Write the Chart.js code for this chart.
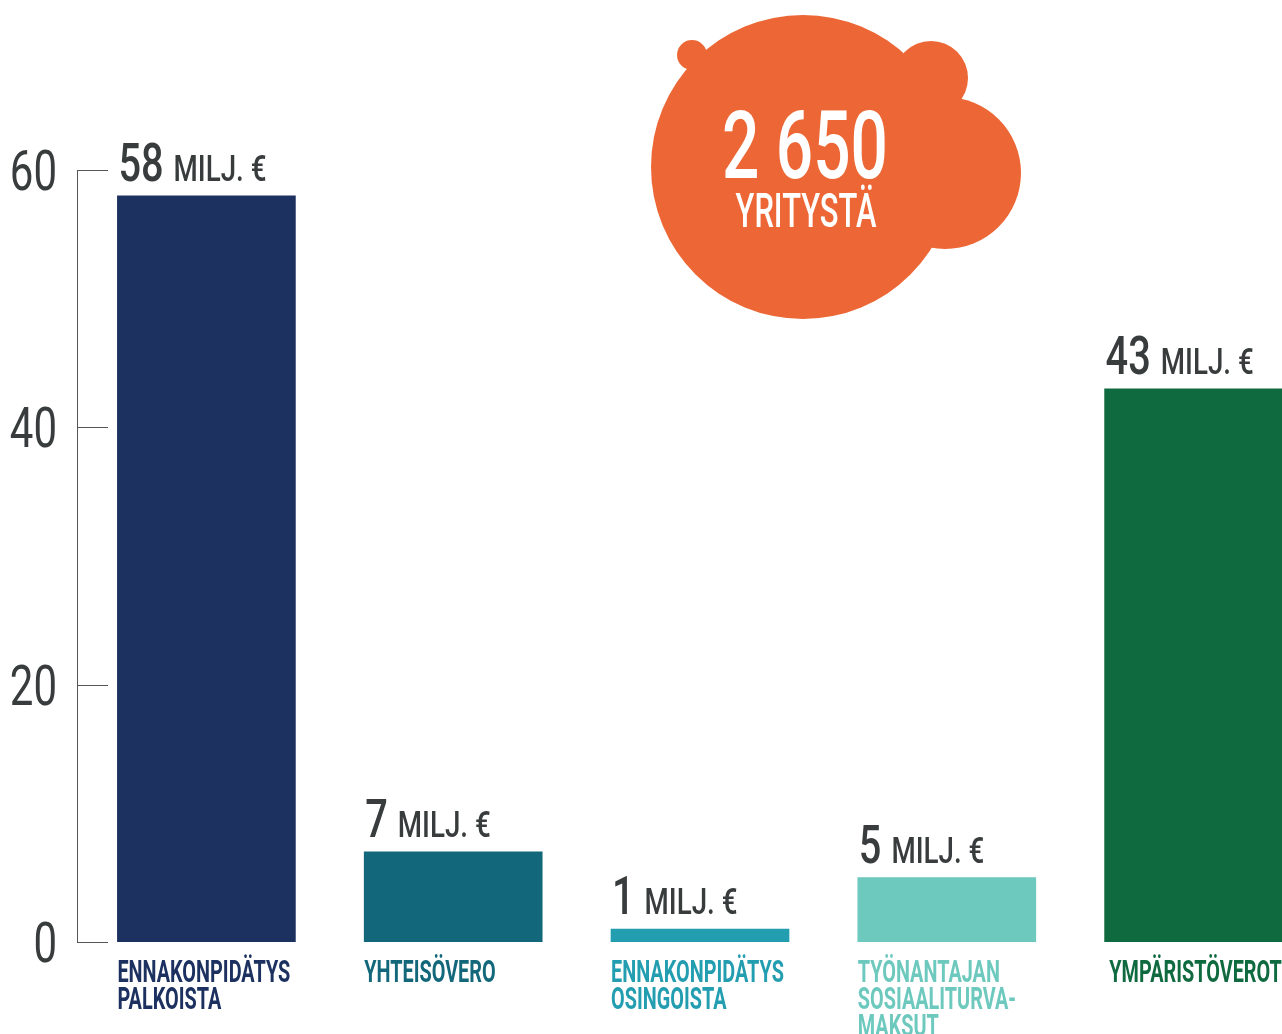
<!DOCTYPE html>
<html>
<head>
<meta charset="utf-8">
<script src="https://cdn.jsdelivr.net/npm/chart.js@4/dist/chart.umd.min.js"></script>
<style>
  html, body { margin: 0; padding: 0; background: #fff; overflow: hidden; }
  #wrap { width: 1320px; height: 1034px; }
</style>
</head>
<body>
<div id="wrap"><canvas id="chart" width="1320" height="1034"></canvas></div>
<script>
// data
const categories = [
  ["ENNAKONPIDÄTYS", "PALKOISTA"],
  ["YHTEISÖVERO"],
  ["ENNAKONPIDÄTYS", "OSINGOISTA"],
  ["TYÖNANTAJAN", "SOSIAALITURVA-", "MAKSUT"],
  ["YMPÄRISTÖVEROT"]
];
const values = [58, 7, 1, 5, 43];
const unit = "MILJ. €";
const colors = ["#1c3160", "#12687a", "#239db0", "#6dc9be", "#0f6b3f"];
const yTicks = [0, 20, 40, 60];
const companyCount = "2 650";
const companyLabel = "YRITYSTÄ";

const FONT = "Roboto, 'DejaVu Sans', sans-serif";
const TEXT = "#383c3c";
const SQUEEZE = 0.75;

// the installed fonts are too wide, so text is squeezed horizontally
function squeezed(ctx, txt, x, y, font, sx, align) {
  ctx.save();
  ctx.font = font;
  let w = ctx.measureText(txt).width * sx;
  if (align === 'right') x -= w;
  if (align === 'center') x -= w / 2;
  ctx.translate(x, y);
  ctx.scale(sx, 1);
  ctx.textAlign = 'left';
  ctx.fillText(txt, 0, 0);
  ctx.restore();
  return w;
}

// y axis: line, inward tick marks and tick labels
const axisPlugin = {
  id: 'axisLine',
  afterDraw(chart) {
    const ctx = chart.ctx;
    const y = chart.scales.y;
    const x0 = chart.chartArea.left - 6;
    ctx.save();
    ctx.strokeStyle = '#555';
    ctx.lineWidth = 1;
    ctx.beginPath();
    ctx.moveTo(x0 + 0.5, y.getPixelForValue(60));
    ctx.lineTo(x0 + 0.5, y.getPixelForValue(0));
    y.ticks.forEach(t => {
      const py = Math.round(y.getPixelForValue(t.value)) + 0.5;
      ctx.moveTo(x0, py);
      ctx.lineTo(x0 + 31, py);
    });
    ctx.stroke();
    ctx.fillStyle = TEXT;
    ctx.textBaseline = 'alphabetic';
    y.ticks.forEach(t => {
      const py = y.getPixelForValue(t.value);
      squeezed(ctx, String(t.value), x0 - 20, py + 20, '400 56px ' + FONT, SQUEEZE, 'right');
    });
    ctx.restore();
  }
};

// category labels under the bars and value labels above them
const labelPlugin = {
  id: 'labels',
  afterDatasetsDraw(chart) {
    const ctx = chart.ctx;
    const meta = chart.getDatasetMeta(0);
    const xs = chart.scales.x;
    ctx.save();
    ctx.textBaseline = 'alphabetic';
    meta.data.forEach((bar, i) => {
      const left = bar.x - bar.width / 2 + 1;
      const base = bar.y - 15;
      ctx.fillStyle = TEXT;
      const w = squeezed(ctx, String(values[i]), left, base, '500 53px ' + FONT, SQUEEZE);
      squeezed(ctx, unit, left + w + 10, base, '500 37px ' + FONT, SQUEEZE);

      ctx.fillStyle = colors[i];
      const cx = xs.getPixelForTick(i);
      const lines = chart.data.labels[i];
      lines.forEach((ln, k) => {
        const by = xs.top + 40 + k * 27;
        if (i === categories.length - 1) {
          squeezed(ctx, ln, cx + 2, by, '700 31px ' + FONT, 0.64, 'center');
        } else {
          squeezed(ctx, ln, cx - bar.width / 2, by, '700 31px ' + FONT, 0.64);
        }
      });
    });
    ctx.restore();
  }
};

// orange bubble
const bubblePlugin = {
  id: 'bubble',
  beforeDatasetsDraw(chart) {
    const ctx = chart.ctx;
    ctx.save();
    ctx.fillStyle = '#ec6735';
    [[803, 167, 152], [945, 173, 76], [931, 78, 37], [692, 55, 15]].forEach(c => {
      ctx.beginPath();
      ctx.arc(c[0], c[1], c[2], 0, Math.PI * 2);
      ctx.fill();
    });
    ctx.fillStyle = '#fff';
    ctx.textBaseline = 'alphabetic';
    ctx.font = '500 95px ' + FONT;
    let s1 = 166 / ctx.measureText(companyCount).width;
    squeezed(ctx, companyCount, 805, 178, '500 95px ' + FONT, s1, 'center');
    ctx.font = '500 49px ' + FONT;
    let s2 = 141 / ctx.measureText(companyLabel).width;
    squeezed(ctx, companyLabel, 806, 227, '500 49px ' + FONT, s2, 'center');
    ctx.restore();
  }
};

new Chart(document.getElementById('chart'), {
  type: 'bar',
  data: {
    labels: categories,
    datasets: [{
      data: values,
      backgroundColor: colors,
      barThickness: 178,
      borderWidth: 0
    }]
  },
  options: {
    responsive: false,
    animation: false,
    layout: { padding: { top: 170, right: 3, left: 0, bottom: 0 } },
    plugins: { legend: { display: false }, tooltip: { enabled: false } },
    scales: {
      x: {
        grid: { display: false, drawTicks: false },
        border: { display: false },
        ticks: { display: false },
        afterFit(scale) {
          scale.height = 92;
          scale.paddingLeft = 0;
          scale.paddingRight = 0;
        }
      },
      y: {
        min: 0,
        max: 60,
        grid: { display: false, drawTicks: false },
        border: { display: false },
        ticks: { display: false },
        afterBuildTicks(scale) { scale.ticks = yTicks.map(v => ({ value: v })); },
        afterFit(scale) {
          scale.width = 83;
          scale.paddingTop = 0;
          scale.paddingBottom = 0;
        }
      }
    }
  },
  plugins: [bubblePlugin, labelPlugin, axisPlugin]
});
</script>
</body>
</html>
